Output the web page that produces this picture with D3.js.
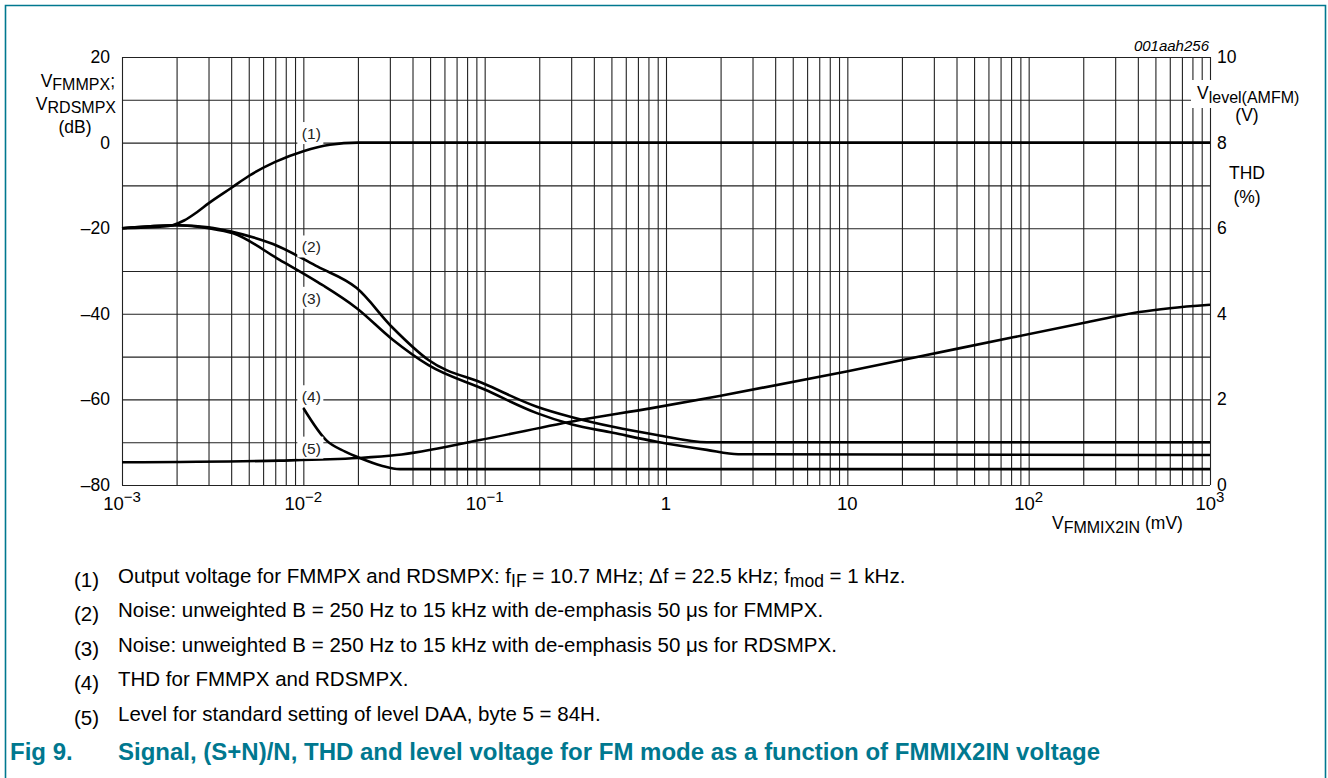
<!DOCTYPE html>
<html>
<head>
<meta charset="utf-8">
<script src="https://cdn.jsdelivr.net/npm/d3@7"></script>
<style>
  body{margin:0;background:#fff;}
  svg{font-family:"Liberation Sans",Arial,sans-serif;}
  .grid line{stroke:#222;stroke-width:1.1;}
  .grid path{display:none;}
  .curve{fill:none;stroke:#000;stroke-width:2.6;stroke-linejoin:round;}
</style>
</head>
<body>
<div id="chart"></div>
<script>
// values, x in mV
var xTicks = [1e-3, 1e-2, 1e-1, 1, 10, 100, 1000];
var xTickBase = ["10", "10", "10", "1", "10", "10", "10"];
var xTickExp = ["\u22123", "\u22122", "\u22121", "", "", "2", "3"];
var leftTicks = [20, 0, -20, -40, -60, -80];
var leftTickLabels = ["20", "0", "\u201320", "\u201340", "\u201360", "\u201380"];
var rightTicks = [10, 8, 6, 4, 2, 0];

// (1) output voltage, dB
var outputLevel = [[0.001,-20],[0.0017,-19.6],[0.0019,-19.3],[0.0022,-18.2],[0.0026,-16.2],[0.003,-14.2],[0.004,-10.6],[0.005,-7.8],[0.007,-4.5],[0.01,-2],[0.014,-0.5],[0.02,0],[1000,0]];
// (2) noise FMMPX, dB
var noiseFm = [[0.001,-20],[0.002,-19.3],[0.003,-19.8],[0.004,-20.8],[0.0068,-23.7],[0.012,-29],[0.0197,-34],[0.031,-43.2],[0.049,-50.8],[0.1,-56.4],[0.194,-61.7],[0.3,-64.1],[0.51,-66.4],[0.89,-68.3],[1.68,-70],[1000,-70]];
// (3) noise RDSMPX, dB
var noiseRds = [[0.001,-20],[0.002,-19.3],[0.003,-20],[0.0041,-21.2],[0.0074,-27.4],[0.012,-32.6],[0.0197,-38.7],[0.031,-46],[0.049,-52],[0.1,-57.7],[0.194,-63.2],[0.3,-65.8],[0.51,-67.8],[0.89,-69.9],[1.68,-71.8],[2.5,-72.8],[1000,-73]];
// (4) THD, %
var thd = [[0.01,1.8],[0.0135,1.03],[0.017,0.78],[0.0205,0.63],[0.027,0.45],[0.034,0.37],[1000,0.37]];
// (5) level voltage, V
var levelVolt = [[0.001,0.53],[0.0074,0.57],[0.02,0.63],[0.0326,0.7],[0.094,1.05],[0.335,1.52],[0.82,1.79],[1.97,2.08],[9.9,2.65],[40,3.18],[197,3.78],[308,3.95],[408,4.04],[600,4.13],[1000,4.21]];

var curveLabels = ["(1)", "(2)", "(3)", "(4)", "(5)"];
var curveLabelDb = [2, -24.5, -36.5, -59.5, -71.5];

var noteNums = ["(1)", "(2)", "(3)", "(4)", "(5)"];
var notes = [
  [["Output voltage for FMMPX and RDSMPX: f"],["IF",1],[" = 10.7 MHz; \u0394f = 22.5 kHz; f"],["mod",1],[" = 1 kHz."]],
  [["Noise: unweighted B = 250 Hz to 15 kHz with de-emphasis 50 \u03bcs for FMMPX."]],
  [["Noise: unweighted B = 250 Hz to 15 kHz with de-emphasis 50 \u03bcs for RDSMPX."]],
  [["THD for FMMPX and RDSMPX."]],
  [["Level for standard setting of level DAA, byte 5 = 84H."]]
];
var figNum = "Fig 9.";
var figTitle = "Signal, (S+N)/N, THD and level voltage for FM mode as a function of FMMIX2IN voltage";

var W = 1328, H = 778;
var plotL = 122, plotR = 1210, plotT = 57, plotB = 485;
var teal = "#00788f";
var fs = 17.5, fsSub = 16;

var svg = d3.select("#chart").append("svg").attr("width", W).attr("height", H);

// frame
svg.append("path")
  .attr("d", "M5.5," + H + "V5.5H1325.5V" + H)
  .attr("fill", "none").attr("stroke", teal).attr("stroke-width", 1.6);

var x = d3.scaleLog().domain([1e-3, 1e3]).range([plotL, plotR]);
var y = d3.scaleLinear().domain([-80, 20]).range([plotB, plotT]);
var yR = d3.scaleLinear().domain([0, 10]).range([plotB, plotT]);

//grid: every 1..9 per decade and every 10 dB
svg.append("g").attr("class", "grid")
  .attr("transform", "translate(0," + plotB + ")")
  .call(d3.axisBottom(x).tickValues(x.ticks()).tickSize(-(plotB - plotT)).tickFormat(""));
svg.append("g").attr("class", "grid")
  .attr("transform", "translate(" + plotL + ",0)")
  .call(d3.axisLeft(y).tickValues(d3.range(-80, 21, 10)).tickSize(-(plotR - plotL)).tickFormat(""));

var line = d3.line().x(function(d){ return x(d[0]); }).y(function(d){ return y(d[1]); }).curve(d3.curveMonotoneX);
var lineR = d3.line().x(function(d){ return x(d[0]); }).y(function(d){ return yR(d[1]); }).curve(d3.curveMonotoneX);

[outputLevel, noiseFm, noiseRds].forEach(function(s){
  svg.append("path").attr("class", "curve").attr("d", line(s));
});
[thd, levelVolt].forEach(function(s){
  svg.append("path").attr("class", "curve").attr("d", lineR(s));
});

// curve labels sit on the 10^-2 line, with white behind them
var lab = svg.selectAll(".clab").data(curveLabels).enter().append("g")
  .attr("transform", function(d, i){ return "translate(" + x(0.01) + "," + y(curveLabelDb[i]) + ")"; });
lab.append("rect").attr("x", -6).attr("y", -12).attr("width", 26).attr("height", 22).attr("fill", "#fff");
lab.append("text").text(function(d){ return d; })
  .attr("x", 8).attr("y", 5).attr("text-anchor", "middle")
  .attr("font-size", 15.5).attr("fill", "#222");

// left axis
svg.selectAll(".lt").data(leftTicks).enter().append("text")
  .text(function(d, i){ return leftTickLabels[i]; })
  .attr("x", 110).attr("y", function(d){ return y(d) + 6; })
  .attr("text-anchor", "end").attr("font-size", fs);

var ll = svg.append("text").attr("text-anchor", "end").attr("font-size", fs);
ll.append("tspan").attr("x", 115).attr("y", 87).text("V");
ll.append("tspan").attr("font-size", fsSub).attr("dy", 3).text("FMMPX");
ll.append("tspan").attr("dy", -3).text(";");
var ll2 = svg.append("text").attr("text-anchor", "end").attr("font-size", fs);
ll2.append("tspan").attr("x", 116).attr("y", 110).text("V");
ll2.append("tspan").attr("font-size", fsSub).attr("dy", 3).text("RDSMPX");
svg.append("text").attr("x", 75).attr("y", 133).attr("text-anchor", "middle").attr("font-size", fs).text("(dB)");

// right axis
svg.selectAll(".rt").data(rightTicks).enter().append("text")
  .text(function(d){ return d; })
  .attr("x", 1217).attr("y", function(d){ return yR(d) + 6; })
  .attr("font-size", fs);

svg.append("rect").attr("x", 1191).attr("y", 80).attr("width", 112).attr("height", 28).attr("fill", "#fff");
var rl = svg.append("text").attr("font-size", fs);
rl.append("tspan").attr("x", 1197).attr("y", 99).text("V");
rl.append("tspan").attr("font-size", fsSub).attr("dy", 4).text("level(AMFM)");
svg.append("text").attr("x", 1247).attr("y", 121).attr("text-anchor", "middle").attr("font-size", fs).text("(V)");
svg.append("text").attr("x", 1247).attr("y", 179).attr("text-anchor", "middle").attr("font-size", fs).text("THD");
svg.append("text").attr("x", 1247).attr("y", 203).attr("text-anchor", "middle").attr("font-size", fs).text("(%)");

svg.append("text").attr("x", 1209).attr("y", 51).attr("text-anchor", "end")
  .attr("font-size", 15).attr("font-style", "italic").text("001aah256");

// bottom axis
var bt = svg.selectAll(".bt").data(xTicks).enter().append("text")
  .attr("text-anchor", "middle").attr("font-size", 18.5)
  .attr("transform", function(d){ return "translate(" + x(d) + ",510)"; });
bt.append("tspan").text(function(d, i){ return xTickBase[i]; });
bt.append("tspan").attr("font-size", 15).attr("dy", -8).text(function(d, i){ return xTickExp[i]; });

var xl = svg.append("text").attr("font-size", fs);
xl.append("tspan").attr("x", 1052).attr("y", 529).text("V");
xl.append("tspan").attr("font-size", fsSub).attr("dy", 4).text("FMMIX2IN");
xl.append("tspan").attr("dy", -4).text(" (mV)");

// notes under the chart
noteNums.forEach(function(n, i){
  var yy = 587 + i * 34.4;
  svg.append("text").attr("x", 74).attr("y", yy).attr("font-size", 20.5).text(n);
  var t = svg.append("text").attr("x", 118).attr("y", yy).attr("font-size", 20.5);
  notes[i].forEach(function(seg){
    if(seg[1]){
      t.append("tspan").attr("font-size", 17.5).attr("dy", 4).text(seg[0]);
    }else{
      t.append("tspan").attr("dy", t.selectAll("tspan").size() ? -4 : 0).text(seg[0]);
    }
  });
});

svg.append("text").attr("x", 10).attr("y", 760).attr("font-size", 24).attr("font-weight", "bold")
  .attr("fill", teal).text(figNum);
svg.append("text").attr("x", 118).attr("y", 760).attr("font-size", 24).attr("font-weight", "bold")
  .attr("fill", teal).text(figTitle);
</script>
</body>
</html>
